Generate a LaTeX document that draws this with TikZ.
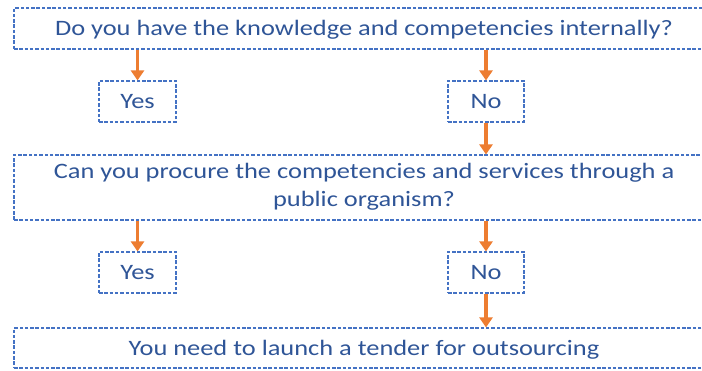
\documentclass[tikz,border=0pt]{standalone}
\usepackage{fontspec}
\setmainfont{Carlito}[FakeStretch=1.2]
\usetikzlibrary{arrows.meta}
\definecolor{txtblue}{HTML}{2F5597}
\definecolor{bdblue}{HTML}{4472C4}
\definecolor{arrorange}{HTML}{ED7D31}
\tikzset{
  dbox/.style={draw=bdblue, line width=1.1pt, dash pattern=on 3.5pt off 1.8pt, text=txtblue, font=\fontsize{22}{28}\selectfont, inner sep=0pt, align=center, text height=19pt, text depth=4pt},
  arr/.style={draw=arrorange, line width=3.5pt, -{Triangle[width=13pt,length=10pt]}},
}
\begin{document}
\begin{tikzpicture}[x=1pt,y=1pt]
\useasboundingbox (0,0) rectangle (702,-371);
\clip (0,0) rectangle (702,-371);
\node[dbox, minimum width=700pt, minimum height=41pt] (q1) at (364,-28.5) {Do you have the knowledge and competencies internally?};
\node[dbox, minimum width=77pt, minimum height=41pt] (y1) at (137.5,-101.5) {Yes};
\node[dbox, minimum width=76pt, minimum height=41pt] (n1) at (486,-101.5) {No};
\node[dbox, minimum width=700pt, minimum height=65pt, text height=43pt] (q2) at (364,-187.5) {Can you procure the competencies and services through a\\public organism?};
\node[dbox, minimum width=77pt, minimum height=41pt] (y2) at (137.5,-272.5) {Yes};
\node[dbox, minimum width=76pt, minimum height=41pt] (n2) at (486,-272.5) {No};
\node[dbox, minimum width=700pt, minimum height=40pt] (q3) at (364,-348) {You need to launch a tender for outsourcing};
\draw[arr] (q1.south -| y1.north) -- (y1.north);
\draw[arr] (q1.south -| n1.north) -- (n1.north);
\draw[arr] (n1.south) -- (q2.north -| n1.south);
\draw[arr] (q2.south -| y2.north) -- (y2.north);
\draw[arr] (q2.south -| n2.north) -- (n2.north);
\draw[arr] (n2.south) -- (q3.north -| n2.south);
\end{tikzpicture}
\end{document}
